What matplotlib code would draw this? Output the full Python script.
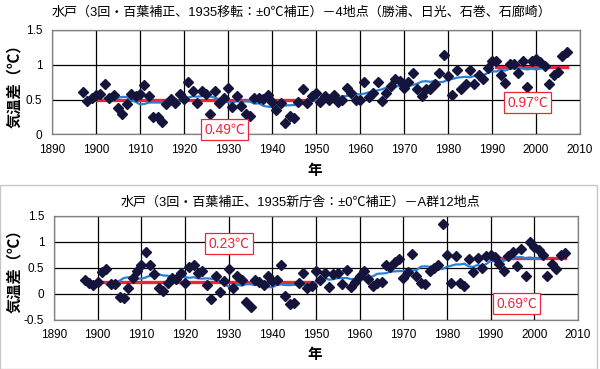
import numpy as np
import pandas as pd
import matplotlib
matplotlib.use("Agg")
import matplotlib.pyplot as plt
from matplotlib.patches import Rectangle

plt.rcParams["font.family"] = ["Liberation Sans", "Noto Sans CJK JP", "DejaVu Sans"]

# --------------------------------------------------------
# Data
# --------------------------------------------------------

years = list(range(1897, 2008))

# 水戸 - 4地点
diff_4 = [
    0.61, 0.48, 0.52,
    0.57, 0.58, 0.73, 0.53, 0.57, 0.38, 0.29, 0.44, 0.58, 0.55,
    0.58, 0.71, 0.55, 0.25, 0.25, 0.18, 0.44, 0.51, 0.45, 0.58,
    0.51, 0.76, 0.63, 0.45, 0.63, 0.58, 0.30, 0.63, 0.45, 0.52,
    0.67, 0.40, 0.55, 0.41, 0.30, 0.27, 0.53, 0.52, 0.51, 0.57,
    0.46, 0.35, 0.45, 0.17, 0.27, 0.23, 0.46, 0.66, 0.45, 0.55,
    0.60, 0.47, 0.55, 0.49, 0.56, 0.46, 0.49, 0.67, 0.60, 0.49,
    0.49, 0.75, 0.54, 0.60, 0.75, 0.48, 0.60, 0.69, 0.80, 0.77,
    0.67, 0.76, 0.88, 0.66, 0.55, 0.66, 0.66, 0.72, 0.88, 1.14,
    0.84, 0.56, 0.93, 0.66, 0.73, 0.92, 0.73, 0.86, 0.79, 0.96,
    1.05, 1.05, 0.86, 0.74, 1.01, 1.01, 0.88, 1.06, 0.68, 1.06,
    1.08, 1.04, 0.99, 0.73, 0.85, 0.89, 1.13, 1.18,
]

# 水戸 - A群12地点
diff_a12 = [
    0.26, 0.21, 0.16,
    0.22, 0.41, 0.48, 0.19, 0.19, -0.07, -0.09, 0.11, 0.30, 0.44,
    0.56, 0.80, 0.56, 0.37, 0.11, 0.06, 0.21, 0.30, 0.28, 0.40,
    0.21, 0.52, 0.55, 0.40, 0.44, 0.16, -0.11, 0.34, 0.04, 0.24,
    0.47, 0.11, 0.34, 0.26, -0.16, -0.26, 0.26, 0.23, 0.16, 0.35,
    0.24, 0.26, 0.56, -0.05, -0.21, -0.19, 0.21, 0.39, 0.10, 0.14,
    0.43, 0.26, 0.39, 0.12, 0.37, 0.40, 0.18, 0.45, 0.12, 0.23,
    0.35, 0.44, 0.28, 0.14, 0.20, 0.22, 0.55, 0.51, 0.61, 0.67,
    0.30, 0.42, 0.77, 0.34, 0.20, 0.19, 0.43, 0.50, 0.56, 1.35,
    0.75, 0.20, 0.72, 0.20, 0.14, 0.67, 0.42, 0.69, 0.50, 0.72,
    0.74, 0.70, 0.58, 0.43, 0.72, 0.80, 0.53, 0.87, 0.35, 1.00,
    0.90, 0.84, 0.74, 0.35, 0.58, 0.48, 0.75, 0.78,
]

# period means (red lines)
periods = [(1900, 1950), (1991, 2007)]
means_4 = [0.49, 0.97]
means_a12 = [0.23, 0.69]

titles = [
    "水戸（3回・百葉補正、1935移転：±0℃補正）－4地点（勝浦、日光、石巻、石廊崎）",
    "水戸（3回・百葉補正、1935新庁舎：±0℃補正）－A群12地点",
]

# --------------------------------------------------------
# Figure
# --------------------------------------------------------

W, H = 600, 369
fig = plt.figure(figsize=(6, 3.69), dpi=100)
fig.patch.set_facecolor("white")

# light frame around the lower panel
fig.add_artist(Rectangle((0.0, 0.0), 597 / W, 1 - 185 / H,
                         transform=fig.transFigure, fill=False,
                         edgecolor="#c8c8c8", linewidth=1.0))

MARK = "#14143c"
BLUE = "#2a7fd8"
RED = "#e8283a"


def draw_panel(ax, vals, means, ylim, yticks, label_pos):
    s = pd.Series(vals, index=years)
    smooth = s.rolling(11, center=True).mean()

    ax.set_xlim(1890, 2010)
    ax.set_ylim(*ylim)
    ax.set_xticks(range(1890, 2011, 10))
    ax.set_yticks(yticks)
    ax.set_yticklabels([f"{t:g}" for t in yticks])
    ax.grid(True, color="black", linewidth=0.9)
    ax.set_axisbelow(True)
    ax.tick_params(length=0, labelsize=8.5, pad=7)
    for sp in ax.spines.values():
        sp.set_color("#808080")
        sp.set_linewidth(0.9)

    for (y0, y1), m in zip(periods, means):
        ax.plot([y0, y1], [m, m], color=RED, linewidth=2.4, zorder=3)

    ax.plot(smooth.index, smooth.values, color=BLUE, linewidth=1.6, zorder=4)
    ax.plot(years, vals, linestyle="none", marker="D", markersize=4.8,
            color=MARK, zorder=5)

    for (x, y), m in zip(label_pos, means):
        ax.text(x, y, f"{m:.2f}℃", color=RED, fontsize=10,
                ha="center", va="center", zorder=6,
                bbox=dict(boxstyle="square,pad=0.25", facecolor="white",
                          edgecolor=RED, linewidth=0.9))


# top panel
ax1 = fig.add_axes([52 / W, 1 - 134.5 / H, 528 / W, 104.5 / H])
draw_panel(ax1, diff_4, means_4, (0, 1.5), [0, 0.5, 1, 1.5],
           [(1929.2, 0.07), (1998.1, 0.46)])

# bottom panel
ax2 = fig.add_axes([54 / W, 1 - 319.5 / H, 524 / W, 103.5 / H])
draw_panel(ax2, diff_a12, means_a12, (-0.5, 1.5), [-0.5, 0, 0.5, 1, 1.5],
           [(1930.1, 0.96), (1995.9, -0.19)])

# titles and axis labels
fig.text(302 / W, 1 - 13 / H, titles[0], ha="center", va="center", fontsize=9.4)
fig.text(300 / W, 1 - 203 / H, titles[1], ha="center", va="center", fontsize=9.4)

for yc in (82, 267):
    fig.text(15 / W, 1 - yc / H, "気温差（℃）", rotation=90,
             ha="center", va="center", fontsize=11, fontweight="bold")
for yc in (171, 355):
    fig.text(315 / W, 1 - yc / H, "年", ha="center", va="center",
             fontsize=10.5, fontweight="bold")

fig.savefig("out.png", dpi=100)
plt.close(fig)
